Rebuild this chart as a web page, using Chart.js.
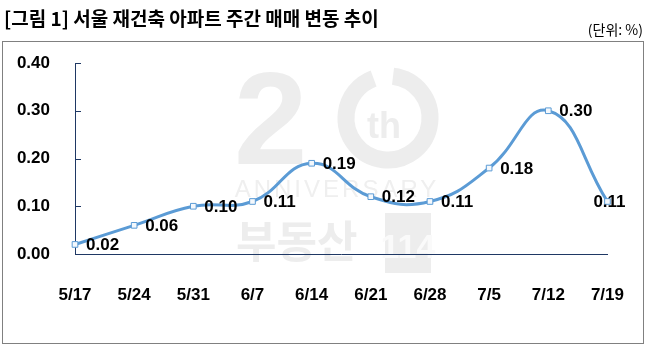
<!DOCTYPE html>
<html>
<head>
<meta charset="utf-8">
<script src="https://cdn.jsdelivr.net/npm/chart.js@4.4.0/dist/chart.umd.min.js"></script>
<style>
  body { margin: 0; background: #fff; }
  #wrap { width: 655px; height: 362px; position: relative; }
</style>
</head>
<body>
<div id="wrap"><canvas id="grafica"></canvas></div>
<script>
// 데이터
const semanas = ['5/17', '5/24', '5/31', '6/7', '6/14', '6/21', '6/28', '7/5', '7/12', '7/19'];
const variacion = [0.02, 0.06, 0.10, 0.11, 0.19, 0.12, 0.11, 0.18, 0.30, 0.11];
const ticksY = [0, 0.1, 0.2, 0.3, 0.4];

const titulo = '[그림 1] 서울 재건축 아파트 주간 매매 변동 추이';
const unidad = '(단위: %)';

const azul = '#5B9BD5';
const marino = '#1F3864';
const fuenteNum = '"Liberation Sans", Arial, sans-serif';

// marco, titulo y marca de agua
const fondoPlugin = {
    id: 'fondo',
    beforeDraw(chart) {
        const ctx = chart.ctx;
        ctx.save();
        ctx.fillStyle = '#fff';
        ctx.fillRect(0, 0, chart.width, chart.height);

        ctx.fillStyle = '#000';
        ctx.textBaseline = 'middle';
        ctx.textAlign = 'left';
        ctx.font = 'bold 19px "Noto Sans CJK KR", sans-serif';
        ctx.fillText(titulo, 4, 19);

        ctx.textAlign = 'right';
        ctx.font = '14px "Noto Sans CJK KR", sans-serif';
        ctx.fillText(unidad, 643, 30);

        ctx.strokeStyle = '#808080';
        ctx.lineWidth = 1;
        ctx.strokeRect(2.5, 41.5, 641, 302);

        // marca de agua (20th anniversary)
        ctx.fillStyle = '#ededed';
        ctx.strokeStyle = '#ededed';
        ctx.textAlign = 'left';
        ctx.textBaseline = 'alphabetic';
        ctx.font = 'bold 132px "Liberation Sans", Arial, sans-serif';
        ctx.fillText('2', 234, 164);
        ctx.lineWidth = 17;
        ctx.beginPath();
        ctx.arc(388, 118, 42, -Math.PI / 2 + 0.12, Math.PI * 1.5 - 0.35);
        ctx.stroke();
        ctx.font = 'bold 36px "Liberation Sans", Arial, sans-serif';
        ctx.textAlign = 'center';
        ctx.fillText('th', 384, 138);
        ctx.fillStyle = '#efefef';
        ctx.font = '24px "Liberation Sans", Arial, sans-serif';
        ctx.letterSpacing = '3px';
        ctx.fillText('ANNIVERSARY', 337, 197);
        ctx.letterSpacing = '0px';
        ctx.fillStyle = '#ededed';
        ctx.font = 'bold 44px "Noto Sans CJK KR", sans-serif';
        ctx.textAlign = 'left';
        ctx.fillText('부동산', 236, 258);
        ctx.fillRect(385, 213, 46, 60);
        ctx.fillStyle = '#fafafa';
        ctx.font = 'bold 34px "Liberation Sans", Arial, sans-serif';
        ctx.textAlign = 'center';
        ctx.fillText('114', 408, 258);
        ctx.restore();
    }
};

// marcas interiores del eje y + etiquetas de datos
const etiquetasPlugin = {
    id: 'etiquetas',
    afterDatasetsDraw(chart) {
        const ctx = chart.ctx;
        const y = chart.scales.y;
        ctx.save();
        ctx.strokeStyle = marino;
        ctx.lineWidth = 1;
        ticksY.forEach(v => {
            let py = Math.round(y.getPixelForValue(v)) + 0.5;
            ctx.beginPath();
            ctx.moveTo(chart.chartArea.left, py);
            ctx.lineTo(chart.chartArea.left + 6, py);
            ctx.stroke();
        });

        const meta = chart.getDatasetMeta(0);
        ctx.fillStyle = '#000';
        ctx.font = 'bold 17px ' + fuenteNum;
        ctx.textBaseline = 'middle';
        meta.data.forEach((p, i) => {
            let txt = variacion[i].toFixed(2);
            if (i === meta.data.length - 1) {
                ctx.textAlign = 'center';
                ctx.fillText(txt, p.x + 2, p.y + 1);
            } else {
                ctx.textAlign = 'left';
                ctx.fillText(txt, p.x + 11, p.y + 1);
            }
        });
        ctx.restore();
    }
};

new Chart(document.getElementById('grafica'), {
    type: 'line',
    data: {
        labels: semanas,
        datasets: [{
            data: variacion,
            borderColor: azul,
            borderWidth: 3,
            tension: 0.45,
            pointStyle: 'rect',
            pointRadius: 4,
            pointBorderWidth: 1,
            pointBorderColor: azul,
            pointBackgroundColor: '#f4f8fc'
        }]
    },
    options: {
        responsive: true,
        maintainAspectRatio: false,
        animation: false,
        devicePixelRatio: 1,
        layout: { padding: { left: 0, top: 63, right: 37, bottom: 0 } },
        plugins: { legend: { display: false }, tooltip: { enabled: false } },
        scales: {
            x: {
                offset: false,
                grid: { display: false, drawTicks: false },
                border: { display: true, color: marino, width: 1 },
                ticks: {
                    color: '#000',
                    font: { family: fuenteNum, size: 17, weight: 'bold' },
                    padding: 31,
                    maxRotation: 0,
                    autoSkip: false
                },
                afterFit(scale) { scale.height = 108; }
            },
            y: {
                min: 0,
                max: 0.4,
                grid: { display: false, drawTicks: false },
                border: { display: true, color: marino, width: 1 },
                ticks: {
                    stepSize: 0.1,
                    color: '#000',
                    font: { family: fuenteNum, size: 17, weight: 'bold' },
                    padding: 25,
                    callback: v => v.toFixed(2)
                },
                afterFit(scale) { scale.width = 75; }
            }
        }
    },
    plugins: [fondoPlugin, etiquetasPlugin]
});
</script>
</body>
</html>
